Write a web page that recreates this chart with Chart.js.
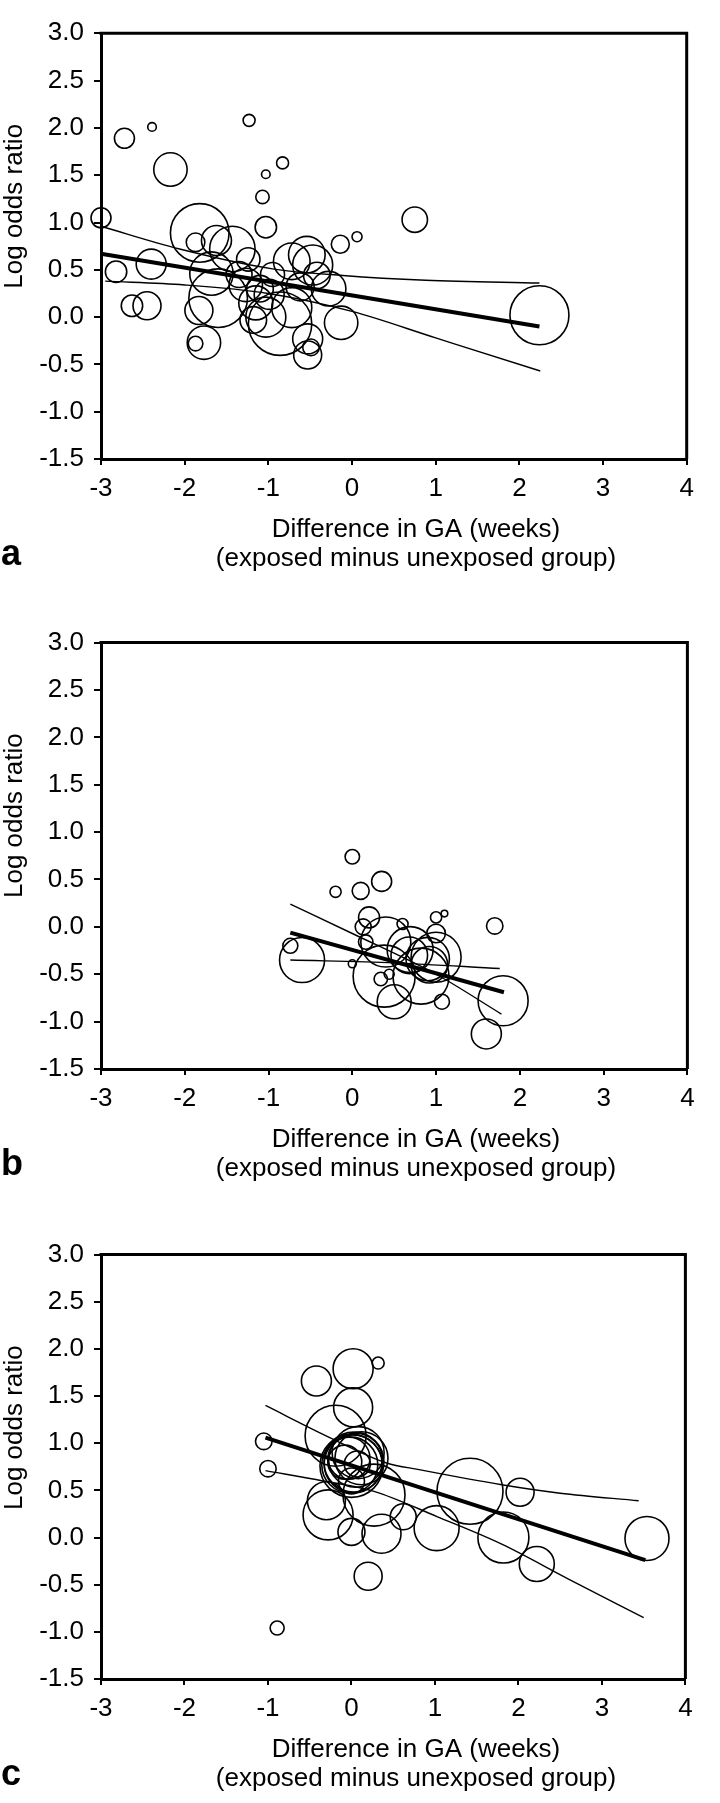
<!DOCTYPE html>
<html>
<head>
<meta charset="utf-8">
<title>Log odds ratio vs difference in GA</title>
<script src="https://cdn.jsdelivr.net/npm/chart.js@4.4.0/dist/chart.umd.min.js"></script>
<style>
  html, body { margin: 0; padding: 0; background: #fff; }
  .panel { position: relative; width: 720px; }
  canvas { display: block; }
</style>
</head>
<body>
<div class="panel" style="height:610px"><canvas id="chart-a" width="720" height="610"></canvas></div>
<div class="panel" style="height:610px"><canvas id="chart-b" width="720" height="610"></canvas></div>
<div class="panel" style="height:583px"><canvas id="chart-c" width="720" height="583"></canvas></div>
<script>
// tick values shared by all three panels
const xTicks = [-3, -2, -1, 0, 1, 2, 3, 4];
const yTicks = [-1.5, -1.0, -0.5, 0.0, 0.5, 1.0, 1.5, 2.0, 2.5, 3.0];
const yTitle = "Log odds ratio";
const xTitle = ["Difference in GA (weeks)", "(exposed minus unexposed group)"];

// panel a - studies (x = GA difference, y = log OR, r = bubble radius)
const aX = [-3.0, -2.72, -2.39, -2.17, -1.23, -0.83, -1.03, -1.07, -1.03, -0.14, 0.06, 0.75, 2.24,
  -1.82, -1.62, -1.87, -1.43, -1.24, -0.72, -0.54, -0.42, -0.28, -2.40, -2.82, -1.68, -1.60, -1.83,
  -2.63, -2.45, -1.27, -1.10, -0.99, -1.18, -1.03, -0.86, -0.72, -0.53, -0.53, -0.49, -0.13, -1.77,
  -1.87, -1.35, -1.15, -0.95, -0.62, -0.47];
const aY = [1.05, 1.89, 2.01, 1.56, 2.08, 1.63, 1.51, 1.27, 0.95, 0.77, 0.85, 1.03, 0.02,
  0.89, 0.81, 0.79, 0.72, 0.61, 0.59, 0.66, 0.44, 0.30, 0.56, 0.48, 0.46, 0.20, 0.07,
  0.12, 0.12, 0.34, 0.30, 0.24, -0.03, 0.00, -0.07, 0.10, -0.23, -0.40, -0.32, -0.06, -0.27,
  -0.28, 0.45, 0.15, 0.45, 0.32, 0.55];
const aR = [10, 10, 4.3, 16.7, 6, 6, 4.3, 6.7, 10.7, 9, 5, 12.7, 29.5,
  29.3, 15, 9.3, 22.7, 11.7, 18.3, 18.3, 13.3, 17.3, 15, 10.7, 21.7, 29.3, 14,
  10.7, 14, 16.7, 13.3, 15, 13.3, 20, 31.7, 20, 15, 14, 8.3, 16.7, 16.7,
  7.3, 13, 17, 12, 14, 20];
const aFitX = [-3.0, 2.24];
const aFitY = [0.67, -0.10];
const aUpX = [-3.0, -2.06, -0.95, -0.11, 0.88, 2.24];
const aUpY = [0.96, 0.72, 0.51, 0.44, 0.39, 0.36];
const aLoX = [-2.95, -2.0, -1.0, 0.0, 1.0, 2.25];
const aLoY = [0.38, 0.34, 0.25, 0.06, -0.22, -0.57];

// panel b
const bX = [0.0, 0.35, -0.2, 0.1, 0.2, 0.13, 0.6, 1.0, 1.1, 1.7, -0.74, -0.6, 0.16, 0.0,
  0.4, 0.38, 0.34, 0.44, 0.68, 0.69, 0.9, 1.0, 0.92, 1.0, 0.5, 1.8, 1.07, 1.6, 0.82];
const bY = [0.74, 0.48, 0.37, 0.38, 0.10, 0.0, 0.03, 0.10, 0.14, 0.01, -0.2, -0.35, -0.16, -0.39,
  -0.16, -0.52, -0.55, -0.5, -0.30, -0.24, -0.34, -0.32, -0.40, -0.07, -0.79, -0.78, -0.79, -1.13, -0.52];
const bR = [7.2, 10, 5.6, 8.5, 10.5, 8, 5.5, 5.6, 3.3, 8.2, 7.5, 22.5, 7.2, 4,
  25, 31, 6.7, 5, 18.3, 23, 21.7, 25, 18.3, 9.3, 17, 25, 7.5, 15, 28];
const bFitX = [-0.74, 1.81];
const bFitY = [-0.06, -0.69];
const bUpX = [-0.74, 0.0, 1.0, 1.78];
const bUpY = [0.24, -0.07, -0.5, -0.92];
const bLoX = [-0.74, 0.5, 1.76];
const bLoY = [-0.35, -0.38, -0.44];

// panel c
const cX = [0.32, 0.02, -0.42, 0.02, -0.19, 0.0, 0.02, 0.08, -0.03, 0.12, -0.08, 0.07, 0.0,
  0.03, -0.02, 0.05, 0.27, -0.30, -0.28, 0.0, 0.36, 0.62, 1.02, 1.42, 0.2, -1.05, -1.0, -0.89,
  2.02, 1.82, 2.22, 3.54];
const cY = [1.85, 1.79, 1.66, 1.38, 1.08, 0.76, 0.78, 0.9, 0.84, 0.84, 0.80, 0.78, 0.60,
  0.80, 0.77, 0.82, 0.45, 0.39, 0.24, 0.06, 0.04, 0.22, 0.10, 0.49, -0.41, 1.02, 0.73, -0.96,
  0.48, 0.0, -0.28, -0.01];
const cR = [6, 20, 15, 19.5, 30.5, 31.5, 29, 26, 21, 26.5, 17, 13, 13,
  30, 28, 27, 31, 19, 25, 13.5, 19.5, 13, 22.5, 33, 14, 8.3, 8.2, 7,
  14, 25.5, 17.5, 22];
const cFitX = [-1.03, 3.52];
const cFitY = [1.06, -0.24];
const cUpX = [-1.03, -0.26, 0.42, 0.81, 1.8, 2.5, 3.44];
const cUpY = [1.40, 1.06, 0.79, 0.72, 0.56, 0.47, 0.39];
const cLoX = [-1.03, -0.34, 0.27, 1.03, 1.8, 2.6, 3.5];
const cLoY = [0.71, 0.60, 0.49, 0.22, -0.07, -0.44, -0.85];

const FONT = '"Liberation Sans", Arial, sans-serif';

function bubbles(xs, ys, rs) {
  return xs.map((x, i) => ({ x: x, y: ys[i], r: rs[i] }));
}
function points(xs, ys) {
  return xs.map((x, i) => ({ x: x, y: ys[i] }));
}

// frame on top/right, rotated y title, two-line x title and panel letter
const panelText = {
  id: 'panelText',
  afterDraw(chart, args, opts) {
    const ctx = chart.ctx;
    const a = chart.chartArea;
    ctx.save();
    ctx.strokeStyle = '#000';
    ctx.lineWidth = 3;
    ctx.beginPath();
    ctx.moveTo(a.left - 1.5, a.top);
    ctx.lineTo(a.right, a.top);
    ctx.lineTo(a.right, a.bottom);
    ctx.stroke();

    ctx.fillStyle = '#000';
    ctx.font = '26px ' + FONT;
    ctx.textAlign = 'center';
    ctx.textBaseline = 'middle';
    ctx.translate(15, a.top + 173);
    ctx.rotate(-Math.PI / 2);
    ctx.fillText(yTitle, 0, 0);
    ctx.restore();

    ctx.save();
    ctx.fillStyle = '#000';
    ctx.font = '26px ' + FONT;
    ctx.textAlign = 'center';
    ctx.textBaseline = 'alphabetic';
    ctx.fillText(xTitle[0], 416, a.bottom + 78);
    ctx.fillText(xTitle[1], 416, a.bottom + 107);
    ctx.font = 'bold 36px ' + FONT;
    ctx.textAlign = 'left';
    ctx.fillText(opts.letter, 1, a.bottom + opts.letterOffset);
    ctx.restore();
  }
};

function makePanel(id, height, letter, letterOffset, bub, fit, up, lo) {
  const thin = { type: 'line', borderColor: '#000', borderWidth: 1.4, pointRadius: 0,
    fill: false, cubicInterpolationMode: 'monotone', clip: false };
  new Chart(document.getElementById(id), {
    type: 'bubble',
    data: {
      datasets: [
        Object.assign({ data: fit }, thin, { borderWidth: 4, cubicInterpolationMode: 'default', tension: 0 }),
        Object.assign({ data: up }, thin),
        Object.assign({ data: lo }, thin),
        { data: bub, backgroundColor: 'rgba(0,0,0,0)', borderColor: '#000', borderWidth: 1.6, clip: false }
      ]
    },
    options: {
      responsive: false,
      animation: false,
      events: [],
      layout: { padding: { top: 12, right: 8, left: 0, bottom: 0 } },
      plugins: { legend: { display: false }, tooltip: { enabled: false },
        panelText: { letter: letter, letterOffset: letterOffset } },
      scales: {
        x: {
          type: 'linear', min: -3, max: 4,
          afterBuildTicks: s => { s.ticks = xTicks.map(v => ({ value: v })); },
          afterFit: s => { s.height = height - 459; },
          ticks: { color: '#000', font: { family: FONT, size: 26 }, padding: 8, autoSkip: false, maxRotation: 0 },
          grid: { drawOnChartArea: false, drawTicks: true, tickLength: 6, color: '#000', lineWidth: 2 },
          border: { color: '#000', width: 3 }
        },
        y: {
          type: 'linear', min: -1.5, max: 3,
          afterBuildTicks: s => { s.ticks = yTicks.map(v => ({ value: v })); },
          afterFit: s => { s.width = 101; },
          ticks: { color: '#000', font: { family: FONT, size: 26 }, padding: 10, autoSkip: false,
            callback: v => v.toFixed(1) },
          grid: { drawOnChartArea: false, drawTicks: true, tickLength: 7, color: '#000', lineWidth: 2 },
          border: { color: '#000', width: 3 }
        }
      }
    },
    plugins: [panelText]
  });
}

makePanel('chart-a', 610, 'a', 106, bubbles(aX, aY, aR), points(aFitX, aFitY), points(aUpX, aUpY), points(aLoX, aLoY));
makePanel('chart-b', 610, 'b', 106, bubbles(bX, bY, bR), points(bFitX, bFitY), points(bUpX, bUpY), points(bLoX, bLoY));
makePanel('chart-c', 583, 'c', 106, bubbles(cX, cY, cR), points(cFitX, cFitY), points(cUpX, cUpY), points(cLoX, cLoY));
</script>
</body>
</html>
